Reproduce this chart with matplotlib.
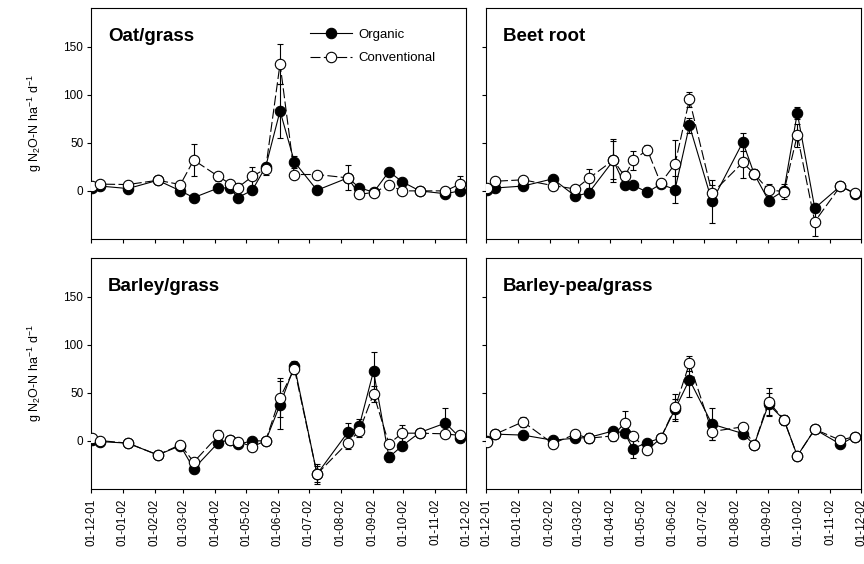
import numpy as np
import matplotlib
matplotlib.use('Agg')
import matplotlib.pyplot as plt
import matplotlib.dates as mdates
from matplotlib.lines import Line2D

plt.rcParams['font.family'] = ['Liberation Sans', 'DejaVu Sans']
plt.rcParams['mathtext.fontset'] = 'custom'
plt.rcParams['mathtext.rm'] = 'Liberation Sans'
plt.rcParams['mathtext.it'] = 'Liberation Sans:italic'

# sampling dates (shared by all four crops)
dates = ['2001-12-02', '2001-12-10', '2002-01-06', '2002-02-04', '2002-02-26',
         '2002-03-11', '2002-04-04', '2002-04-15', '2002-04-23', '2002-05-07',
         '2002-05-20', '2002-06-03', '2002-06-17', '2002-07-09', '2002-08-08',
         '2002-08-19', '2002-09-02', '2002-09-17', '2002-09-30', '2002-10-17',
         '2002-11-11', '2002-11-25']

crops = ['Oat/grass', 'Beet root', 'Barley/grass', 'Barley-pea/grass']

# g N2O-N / ha / d
oat_org = [3.5, 5, 2.4, 11, 0, -7, 3, 3, -7, 0.7, 25, 83, 30, 0.7, 13.5, 3.5, -1.5, 20, 9.4, 0, -3, 0]
oat_org_err = [2, 2, 2, 3, 2, 2, 2, 2, 2, 3, 4, 28, 6, 2, 3, 2, 2, 3, 4, 2, 2, 2]
oat_con = [5, 7, 6.6, 11, 6.6, 32, 15, 7.6, 3.5, 15, 23, 132, 17, 17, 13.5, -3.5, -1.7, 6, 0, 0, 0, 7]
oat_con_err = [2, 2, 2, 3, 2, 17, 5, 2, 5, 10, 6, 21, 3, 2, 13, 3, 4, 2, 2, 2, 2, 8]

beet_org = [1, 3, 5, 12.5, -5.5, -2, 31.6, 6, 6, -1.4, 7, 1.4, 68, -11, 50.7, 17.7, -10, 0.3, 81, -18, 5, -3]
beet_org_err = [2, 2, 2, 2, 2, 2, 22, 2, 2, 3, 2, 14, 8, 22, 9, 4, 2, 4, 6, 4, 2, 2]
beet_con = [3, 10, 11.5, 5.5, 2, 13, 32, 15, 31.6, 42.7, 8, 28, 95, -2.4, 29.5, 17.7, 1, -0.7, 58, -32, 5, -2.4]
beet_con_err = [2, 2, 2, 2, 2, 10, 20, 6, 10, 5, 2, 25, 8, 8, 16, 5, 6, 8, 12, 15, 2, 2]

barley_org = [1, -0.7, -2.4, -14.6, -5, -29, -1.7, 1, -3.5, 0, 0, 37.6, 77.7, -34.5, 9, 15, 72.5, -17, -5, 8.7, 18.5, 3.5]
barley_org_err = [2, 2, 2, 2, 2, 4, 2, 2, 2, 2, 2, 25, 5, 8, 10, 8, 20, 5, 2, 2, 16, 2]
barley_con = [2.8, 0.3, -2.4, -14.6, -4, -22, 5.6, 1, -0.7, -6, 0, 45, 75, -34.5, -1.7, 10, 48.8, -3, 8, 8, 7.3, 5.6]
barley_con_err = [2, 2, 2, 2, 2, 2, 6, 2, 2, 4, 2, 20, 6, 10, 7, 6, 8, 2, 8, 2, 2, 2]

bpea_org = [0, 7, 6, 0.7, 2.8, 3.5, 10.4, 8, -8, -1.7, 2.8, 33, 63.5, 17.4, 7.6, -4, 38, 22, -15.6, 12, -3.5, 4.5]
bpea_org_err = [2, 2, 4, 2, 2, 2, 3, 2, 10, 2, 2, 10, 18, 17, 2, 2, 12, 5, 2, 2, 2, 2]
bpea_con = [-0.7, 7, 19.8, -2.8, 7, 2.8, 5.2, 19, 5.2, -9.7, 2.8, 34.7, 80.5, 9.7, 14.6, -4, 40.6, 22, -15.6, 12, 0.7, 4.5]
bpea_con_err = [2, 2, 5, 5, 2, 5, 5, 12, 2, 2, 2, 14, 8, 9, 2, 2, 14, 4, 2, 2, 2, 2]

organic = [oat_org, beet_org, barley_org, bpea_org]
organic_err = [oat_org_err, beet_org_err, barley_org_err, bpea_org_err]
conventional = [oat_con, beet_con, barley_con, bpea_con]
conventional_err = [oat_con_err, beet_con_err, barley_con_err, bpea_con_err]

x = np.array(dates, dtype='datetime64[D]')
month_ticks = np.arange(np.datetime64('2001-12'), np.datetime64('2003-01'),
                        dtype='datetime64[M]').astype('datetime64[D]')

org_style = dict(color='black', lw=0.8, marker='o', ms=7.5, mfc='black', mec='black', mew=0.8)
con_style = dict(color='black', lw=0.8, ls=(0, (9, 3)), marker='o', ms=7.5, mfc='white',
                 mec='black', mew=0.8)

fig = plt.figure(figsize=(8.64, 5.64), dpi=100)
W, H = 864, 564
boxes = [(91, 8), (486, 8), (91, 258), (486, 258)]   # left, top in px
aw, ah = 375, 231

ylab = r'g N$_2$O-N ha$^{-1}$ d$^{-1}$'

for i, crop in enumerate(crops):
    l, t = boxes[i]
    ax = fig.add_axes([l / W, 1 - (t + ah) / H, aw / W, ah / H])

    ax.errorbar(x, organic[i], yerr=organic_err[i], elinewidth=0.8, capsize=2.5,
                capthick=0.8, zorder=3, **org_style)
    ax.errorbar(x, conventional[i], yerr=conventional_err[i], elinewidth=0.8, capsize=2.5,
                capthick=0.8, zorder=4, **con_style)

    ax.set_xlim(np.datetime64('2001-12-01'), np.datetime64('2002-12-01'))
    ax.set_ylim(-50, 190)
    ax.set_yticks([0, 50, 100, 150])
    ax.set_xticks(month_ticks)
    ax.xaxis.set_major_formatter(mdates.DateFormatter('%d-%m-%y'))
    ax.tick_params(direction='out', length=3, width=0.8, labelsize=8.5, pad=2.5)
    ax.tick_params(axis='x', rotation=90, pad=4)
    for s in ax.spines.values():
        s.set_linewidth(0.8)

    if i in (0, 2):
        ax.set_ylabel(ylab, fontsize=9)
        ax.yaxis.set_label_coords(-0.125, 0.5)
    else:
        ax.set_yticklabels([])
    if i in (0, 1):
        ax.set_xticklabels([])

    ax.text(0.045, 0.875, crop, transform=ax.transAxes, fontsize=13.5,
            fontweight='bold', va='center', ha='left')

    if i == 0:
        handles = [Line2D([], [], **org_style), Line2D([], [], **con_style)]
        ax.legend(handles, ['Organic', 'Conventional'], loc='upper left',
                  bbox_to_anchor=(0.584, 0.91), frameon=False, fontsize=9.5,
                  handlelength=3.2, handletextpad=0.45, labelspacing=0.85,
                  borderaxespad=0, borderpad=0)

fig.savefig('out.png', dpi=100)
